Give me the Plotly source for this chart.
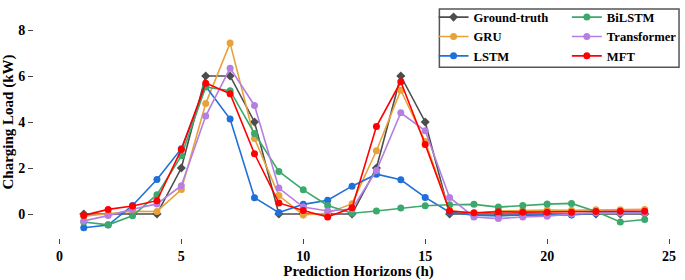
import plotly.graph_objects as go

hours = list(range(1, 25))

ground_truth = [0, 0, 0, 0, 2, 6, 6, 4, 0, 0, 0, 0, 2, 6, 4, 0, 0, 0, 0, 0, 0, 0, 0, 0]
gru = [-0.1, 0.0, 0.12, 0.11, 1.06, 4.8, 7.43, 3.28, 0.8, -0.04, 0.03, 0.45, 2.75, 5.38, 3.15, 0.15, 0.02, 0.13, 0.16, 0.17, 0.16, 0.18, 0.18, 0.2]
lstm = [-0.6, -0.48, 0.37, 1.5, 2.84, 5.55, 4.13, 0.71, 0.06, 0.42, 0.6, 1.21, 1.73, 1.49, 0.72, 0.08, -0.05, -0.08, -0.05, -0.05, -0.04, 0.03, 0.05, 0.05]
bilstm = [-0.35, -0.47, -0.08, 0.84, 2.53, 5.52, 5.36, 3.5, 1.85, 1.05, 0.37, 0.03, 0.13, 0.26, 0.36, 0.4, 0.42, 0.3, 0.37, 0.43, 0.46, 0.11, -0.35, -0.24]
transformer = [-0.3, -0.07, 0.21, 0.44, 1.23, 4.26, 6.34, 4.72, 1.13, 0.3, 0.13, 0.22, 1.89, 4.4, 3.62, 0.72, -0.13, -0.2, -0.13, -0.1, 0.0, 0.05, 0.04, 0.05]
mft = [-0.06, 0.2, 0.35, 0.58, 2.8, 5.69, 5.23, 2.62, 0.48, 0.15, -0.13, 0.27, 3.8, 5.75, 3.02, 0.13, 0.05, 0.1, 0.08, 0.08, 0.08, 0.11, 0.12, 0.12]

x_ticks = [0, 5, 10, 15, 20, 25]
y_ticks = [0, 2, 4, 6, 8]

FONT = "Liberation Serif"

series = [
    # name, values, color, symbol, zorder, legend
    ("Ground-truth", ground_truth, "#4d4d4d", "diamond", 0, "legend"),
    ("GRU", gru, "#e8a23a", "circle", 1, "legend"),
    ("LSTM", lstm, "#1f70d8", "circle", 2, "legend"),
    ("BiLSTM", bilstm, "#3aa96b", "circle", 3, "legend2"),
    ("Transformer", transformer, "#b47fe0", "circle", 4, "legend2"),
    ("MFT", mft, "#ff0000", "circle", 5, "legend2"),
]

fig = go.Figure()
for name, vals, color, sym, z, leg in series:
    fig.add_trace(go.Scatter(
        x=hours, y=vals, name=name, mode="lines+markers",
        line=dict(color=color, width=1.6),
        marker=dict(color=color, size=7, symbol=sym),
        zorder=z, legend=leg,
    ))

legend_common = dict(
    font=dict(family=FONT, size=12.6, color="black", weight="bold"),
    bgcolor="rgba(255,255,255,0)", borderwidth=0,
    xanchor="left", yanchor="top", traceorder="normal",
)

fig.update_layout(
    width=685, height=280,
    margin=dict(l=35, r=3, t=2, b=43),
    paper_bgcolor="white", plot_bgcolor="white",
    font=dict(family=FONT, color="black", weight="bold"),
    showlegend=True,
    legend=dict(x=0.616, y=1.02, **legend_common),
    legend2=dict(x=0.822, y=1.02, **legend_common),
    xaxis=dict(
        range=[-1.0, 25.53], tickvals=x_ticks, ticks="outside", ticklen=5, tickwidth=1.3,
        showgrid=False, zeroline=False, showline=True, linecolor="#222", linewidth=1.8, mirror=True,
        tickfont=dict(family=FONT, size=14, weight="bold"),
        title=dict(text="Prediction Horizons (h)", font=dict(family=FONT, size=15, weight="bold"), standoff=4),
    ),
    yaxis=dict(
        range=[-1.0, 9.0], tickvals=y_ticks, ticks="outside", ticklen=5, tickwidth=1.3,
        showgrid=False, zeroline=False, showline=True, linecolor="#222", linewidth=1.8, mirror=True,
        tickfont=dict(family=FONT, size=14, weight="bold"),
        title=dict(text="Charging Load (kW)", font=dict(family=FONT, size=15, weight="bold"), standoff=4),
    ),
    shapes=[dict(
        type="rect", xref="paper", yref="paper",
        x0=0.625, x1=0.9954, y0=0.738, y1=0.991,
        line=dict(color="#555", width=1.5), fillcolor="rgba(0,0,0,0)", layer="above",
    )],
)

fig.write_html(
    "out.html",
    config={"displayModeBar": False},
    post_script="document.body.style.margin='0';document.body.style.overflow='hidden';",
)
